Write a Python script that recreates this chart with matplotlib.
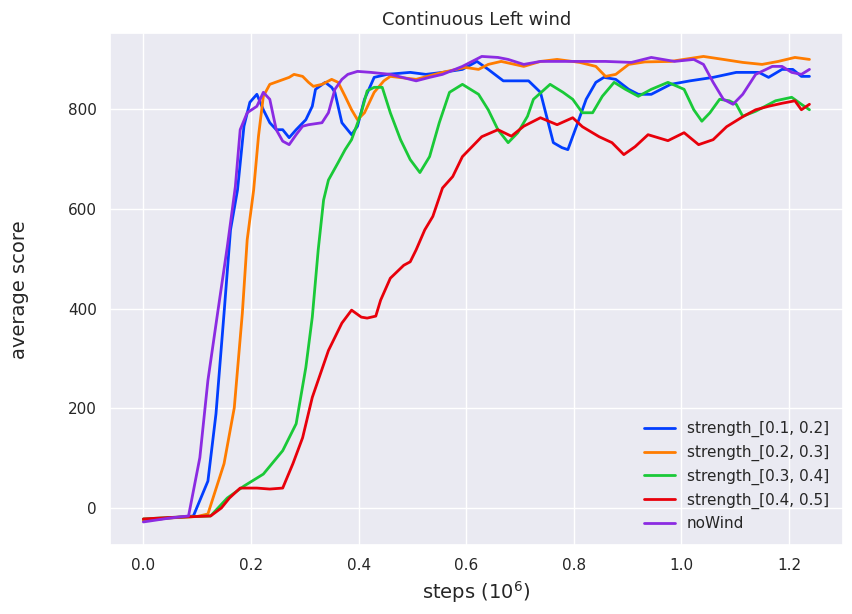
import matplotlib
matplotlib.use("Agg")
import matplotlib.pyplot as plt
import seaborn as sns

sns.set_theme(style="darkgrid")
plt.rcParams['font.family'] = ['DejaVu Sans']

labels = ["strength_[0.1, 0.2]", "strength_[0.2, 0.3]", "strength_[0.3, 0.4]",
          "strength_[0.4, 0.5]", "noWind"]
colors = sns.color_palette("bright", 5)

blue_x = [0.0, 0.05, 0.093, 0.120, 0.135, 0.150, 0.162, 0.175, 0.187, 0.198, 0.211, 0.223, 0.235,
          0.247, 0.259, 0.271, 0.284, 0.302, 0.314, 0.320, 0.338, 0.350, 0.356, 0.369, 0.387, 0.398,
          0.411, 0.429, 0.453, 0.496, 0.525, 0.556, 0.593, 0.620, 0.641, 0.669, 0.696, 0.716, 0.738,
          0.762, 0.778, 0.789, 0.805, 0.823, 0.841, 0.856, 0.878, 0.902, 0.920, 0.944, 0.980, 1.016,
          1.059, 1.102, 1.144, 1.162, 1.187, 1.207, 1.223, 1.238]
blue_y = [-25, -20, -16, 54, 189, 391, 558, 638, 766, 814, 830, 799, 773,
          759, 759, 743, 759, 779, 806, 840, 854, 844, 834, 773, 749, 766,
          820, 864, 870, 874, 870, 874, 880, 896, 880, 857, 857, 857, 834,
          733, 723, 719, 766, 820, 854, 864, 860, 840, 830, 830, 850, 857,
          864, 874, 874, 864, 880, 880, 866, 866]

orange_x = [0.0, 0.05, 0.10, 0.120, 0.150, 0.169, 0.184, 0.193, 0.205, 0.214, 0.223, 0.235, 0.253,
            0.271, 0.280, 0.296, 0.307, 0.316, 0.332, 0.350, 0.362, 0.375, 0.387, 0.398, 0.411,
            0.429, 0.447, 0.459, 0.507, 0.556, 0.598, 0.623, 0.641, 0.665, 0.707, 0.738, 0.769,
            0.811, 0.841, 0.859, 0.878, 0.902, 0.932, 0.980, 1.041, 1.078, 1.114, 1.150, 1.180,
            1.211, 1.238]
orange_y = [-25, -20, -17, -12, 89, 201, 391, 538, 638, 746, 826, 850, 857,
            864, 870, 866, 854, 846, 850, 860, 854, 826, 799, 779, 793,
            834, 857, 866, 860, 874, 884, 880, 890, 896, 886, 896, 900,
            894, 886, 866, 870, 890, 895, 896, 906, 900, 894, 890, 896,
            904, 900]

green_x = [0.0, 0.05, 0.10, 0.125, 0.156, 0.187, 0.223, 0.259, 0.284, 0.302, 0.314, 0.325, 0.335,
           0.344, 0.362, 0.375, 0.387, 0.405, 0.416, 0.429, 0.444, 0.459, 0.478, 0.496, 0.514,
           0.532, 0.550, 0.569, 0.593, 0.623, 0.641, 0.659, 0.678, 0.696, 0.714, 0.725, 0.756,
           0.780, 0.798, 0.816, 0.835, 0.853, 0.875, 0.896, 0.920, 0.944, 0.975, 1.005, 1.023,
           1.038, 1.053, 1.071, 1.089, 1.102, 1.114, 1.138, 1.175, 1.205, 1.223, 1.238]
green_y = [-22, -19, -17, -16, 20, 44, 68, 115, 169, 282, 383, 518, 618,
           658, 693, 719, 739, 793, 837, 844, 844, 793, 739, 699, 673,
           705, 773, 834, 850, 830, 799, 759, 733, 753, 786, 820, 850,
           834, 820, 793, 793, 826, 854, 840, 826, 840, 854, 840, 799,
           776, 793, 820, 817, 810, 786, 796, 817, 824, 810, 799]

red_x = [0.0, 0.05, 0.10, 0.125, 0.145, 0.160, 0.180, 0.211, 0.235, 0.259, 0.278, 0.296, 0.314,
         0.344, 0.369, 0.387, 0.405, 0.416, 0.432, 0.441, 0.459, 0.484, 0.496, 0.507, 0.523,
         0.538, 0.556, 0.575, 0.593, 0.629, 0.659, 0.684, 0.707, 0.738, 0.769, 0.798, 0.816,
         0.847, 0.871, 0.893, 0.914, 0.938, 0.975, 1.005, 1.032, 1.059, 1.084, 1.114, 1.138,
         1.162, 1.187, 1.211, 1.223, 1.238]
red_y = [-22, -19, -17, -16, 0, 20, 40, 40, 38, 40, 89, 141, 222,
         316, 371, 397, 383, 381, 385, 417, 461, 487, 494, 518, 558,
         585, 642, 665, 705, 745, 759, 746, 766, 783, 769, 783, 765,
         745, 733, 709, 725, 749, 737, 753, 729, 739, 765, 785, 799,
         806, 812, 817, 799, 810]

purple_x = [0.0, 0.05, 0.084, 0.105, 0.120, 0.138, 0.156, 0.171, 0.180, 0.193, 0.211, 0.223, 0.235,
            0.247, 0.259, 0.271, 0.284, 0.296, 0.307, 0.332, 0.344, 0.356, 0.369, 0.380, 0.398,
            0.423, 0.459, 0.507, 0.532, 0.556, 0.593, 0.629, 0.659, 0.678, 0.707, 0.738, 0.798,
            0.859, 0.907, 0.944, 0.987, 1.023, 1.041, 1.059, 1.078, 1.096, 1.114, 1.138, 1.169,
            1.187, 1.205, 1.223, 1.238]
purple_y = [-28, -20, -16, 101, 256, 391, 524, 645, 759, 793, 806, 834, 820,
            759, 736, 729, 749, 766, 769, 773, 793, 840, 860, 870, 876,
            874, 870, 857, 864, 870, 886, 906, 904, 900, 890, 896, 896,
            896, 894, 904, 896, 900, 890, 854, 820, 810, 830, 870, 886,
            886, 874, 870, 880]

series = [(blue_x, blue_y), (orange_x, orange_y), (green_x, green_y),
          (red_x, red_y), (purple_x, purple_y)]

fig = plt.figure(figsize=(8.53, 6.14), dpi=100)
ax = fig.add_axes([0.129, 0.112, 0.859, 0.834])
for (xs, ys), lab, c in zip(series, labels, colors):
    ax.plot(xs, ys, color=c, lw=2, label=lab)

ax.set_title("Continuous Left wind", fontsize=13)
ax.set_xlabel("steps ($10^6$)", fontsize=14)
ax.set_ylabel("average score", fontsize=14, labelpad=28)
ax.set_xticks([0.0, 0.2, 0.4, 0.6, 0.8, 1.0, 1.2])
ax.set_yticks([0, 200, 400, 600, 800])
ax.tick_params(labelsize=11)
ax.legend(loc="lower right", frameon=False, fontsize=11)

fig.savefig("out.png", dpi=100)
